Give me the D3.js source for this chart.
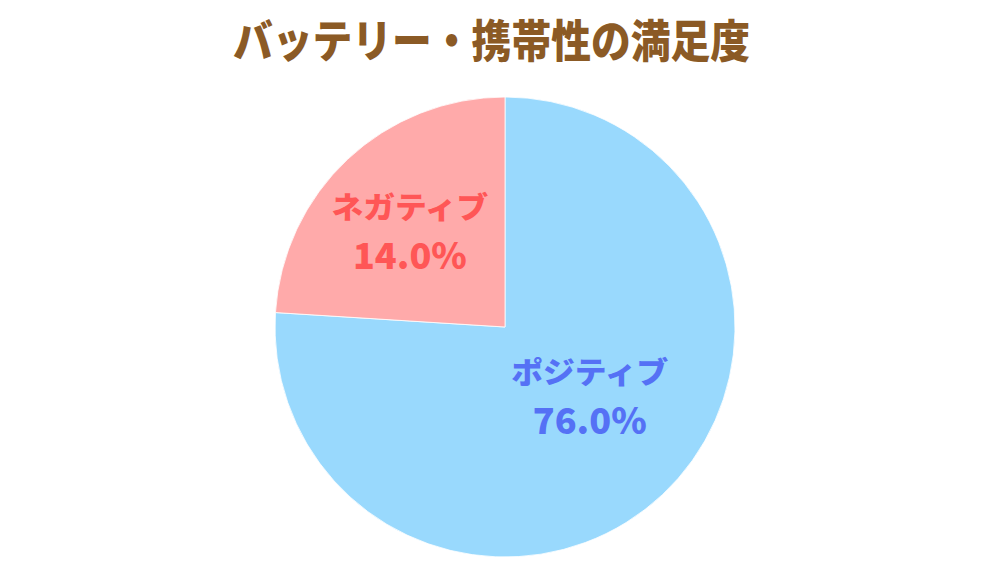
<!DOCTYPE html>
<html><head><meta charset="utf-8">
<script src="https://cdn.jsdelivr.net/npm/d3@7"></script>
<style>body{margin:0;background:#fff}svg{display:block}</style>
</head><body>
<svg id="c" width="1000" height="562"></svg>
<script>
const title = "バッテリー・携帯性の満足度";
const categories = ["ポジティブ", "ネガティブ"];
const values = [76, 24];
const valueLabels = ["76.0%", "14.0%"];
const fillColors = ["#99d9fd", "#ffaaaa"];
const textColors = ["#5571f5", "#ff5656"];

const svg = d3.select("#c");
const cx = 505, cy = 327, R = 230;
const font = "'Noto Sans CJK JP', 'Noto Sans', sans-serif";

svg.append("text").attr("x", 491.5).attr("y", 58).attr("text-anchor", "middle")
  .attr("font-family", font).attr("font-weight", 900).attr("font-size", 45)
  .attr("textLength", 517).attr("lengthAdjust", "spacingAndGlyphs")
  .attr("fill", "#8b5a25").text(title);

const data = categories.map((c, i) => ({cat: c, v: values[i], lab: valueLabels[i], fill: fillColors[i], tc: textColors[i], i}));
const pie = d3.pie().value(d => d.v).sort(null);
const arc = d3.arc().innerRadius(0).outerRadius(R);
// layout: label radius fraction and small nudge per slice
const labelRadiusFrac = [0.5, 0.585];
const labelNudge = [[6, -15], [-3, 2]];
const g = svg.append("g").attr("transform", `translate(${cx},${cy})`);
const arcs = pie(data);
g.selectAll("path").data(arcs).join("path")
  .attr("d", arc).attr("fill", d => d.data.fill)
  .attr("stroke", "#ffffff").attr("stroke-width", 0.8);

const lg = g.selectAll("g.lab").data(arcs).join("g").attr("class", "lab")
  .attr("transform", d => {
    const r = R * labelRadiusFrac[d.data.i];
    const [x, y] = d3.arc().innerRadius(r).outerRadius(r).centroid(d);
    const n = labelNudge[d.data.i];
    return `translate(${x + n[0]},${y + n[1]})`;
  });
lg.append("text").attr("text-anchor", "middle").attr("y", -13)
  .attr("font-family", font).attr("font-weight", 900).attr("font-size", 30)
  .attr("textLength", 157).attr("lengthAdjust", "spacingAndGlyphs")
  .attr("fill", d => d.data.tc).text(d => d.data.cat);
lg.append("text").attr("text-anchor", "middle").attr("y", 38)
  .attr("font-family", font).attr("font-weight", 900).attr("font-size", 36)
  .attr("fill", d => d.data.tc).text(d => d.data.lab);
</script>
</body></html>
